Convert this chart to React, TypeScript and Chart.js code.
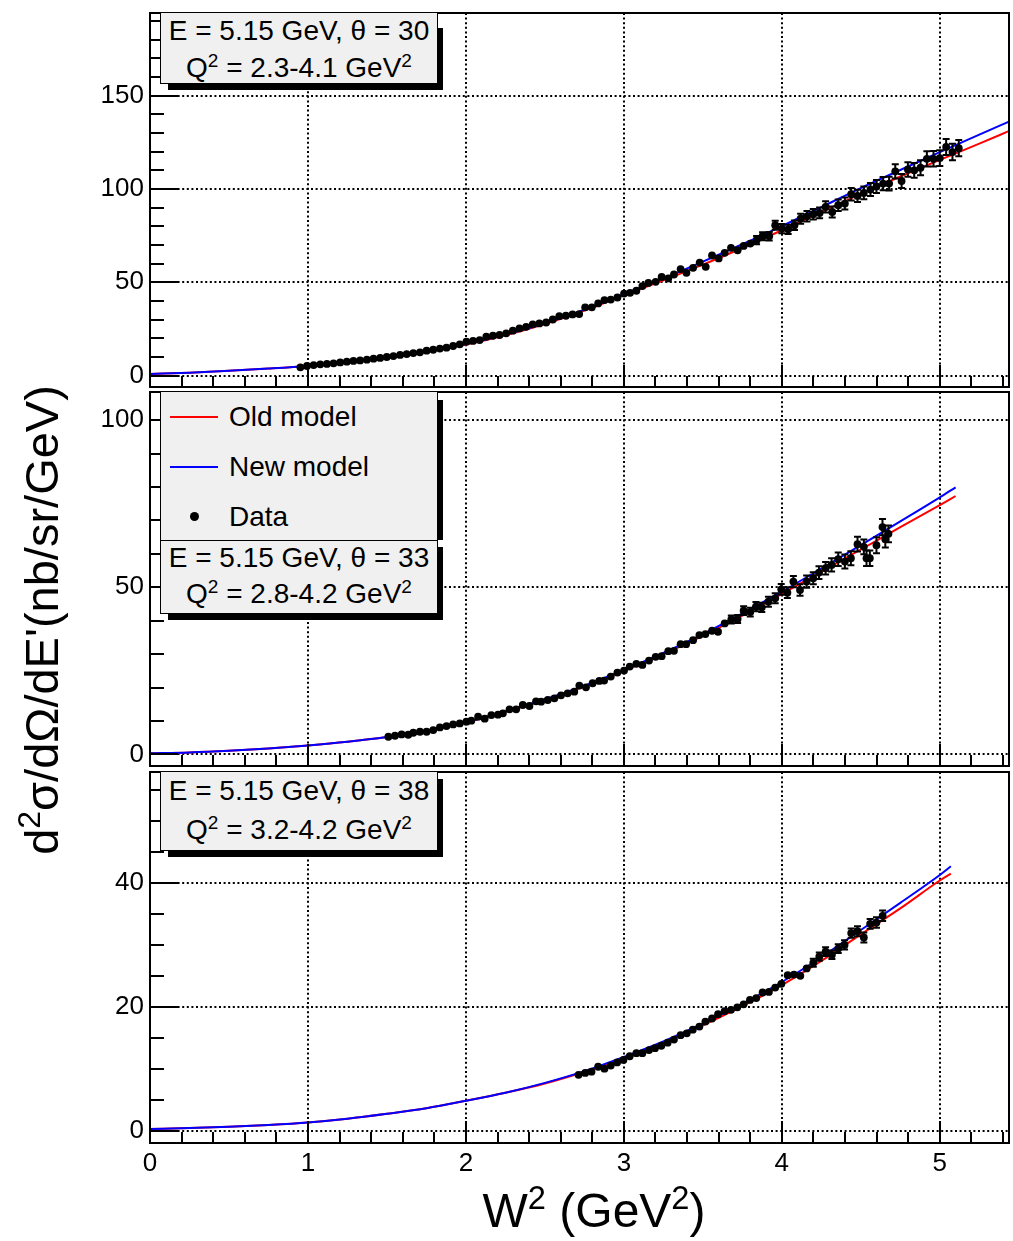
import React, { useEffect, useRef } from "react";
import { Chart, registerables } from "chart.js";

Chart.register(...registerables);

const FONT = "'Liberation Sans', Arial, Helvetica, sans-serif";

// ---------- shared x axis ----------
const X_MIN = 0;
const X_MAX = 5.438;
const xTickLabels = [0, 1, 2, 3, 4, 5];

// ---------- panel 1 (theta = 30) ----------
const p1YTicks = [0, 50, 100, 150];
const p1Data: number[][] = [
  [0.952, 4.4, 0.3], [0.994, 5.1, 0.3], [1.036, 5.6, 0.3], [1.078, 6.0, 0.3], [1.12, 6.2, 0.3],
  [1.162, 6.5, 0.3], [1.204, 7.0, 0.3], [1.246, 7.4, 0.3], [1.288, 7.8, 0.3], [1.33, 8.1, 0.3],
  [1.373, 8.5, 0.3], [1.415, 9.0, 0.3], [1.457, 9.4, 0.3], [1.499, 9.9, 0.3], [1.541, 10.4, 0.3],
  [1.583, 11.0, 0.3], [1.625, 11.5, 0.3], [1.667, 12.0, 0.3], [1.709, 12.4, 0.3], [1.751, 13.3, 0.3],
  [1.793, 13.8, 0.3], [1.835, 14.4, 0.3], [1.877, 14.9, 0.3], [1.919, 15.8, 0.4], [1.961, 16.7, 0.4],
  [2.003, 18.1, 0.4], [2.045, 18.5, 0.4], [2.087, 19.0, 0.4], [2.129, 20.8, 0.4], [2.171, 21.3, 0.4],
  [2.213, 21.7, 0.4], [2.255, 22.6, 0.5], [2.297, 24.0, 0.5], [2.339, 25.2, 0.5], [2.381, 26.1, 0.5],
  [2.423, 27.4, 0.5], [2.465, 27.9, 0.5], [2.508, 28.4, 0.6], [2.55, 30.0, 0.6], [2.591, 31.8, 0.6],
  [2.633, 32.0, 0.6], [2.675, 32.7, 0.7], [2.717, 32.9, 0.7], [2.755, 36.5, 0.7], [2.797, 36.5, 0.7],
  [2.837, 38.6, 0.8], [2.877, 40.4, 0.8], [2.917, 40.7, 0.8], [2.959, 41.8, 0.9], [3.001, 43.9, 0.9],
  [3.039, 44.3, 1.0], [3.079, 45.4, 1.0], [3.117, 47.9, 1.1], [3.155, 49.6, 1.1], [3.201, 50.2, 1.2],
  [3.239, 52.8, 1.2], [3.281, 52.0, 1.3], [3.317, 54.1, 1.3], [3.359, 57.0, 1.4], [3.396, 55.0, 1.4],
  [3.438, 57.7, 1.5], [3.48, 60.5, 1.6], [3.518, 58.2, 1.6], [3.558, 64.3, 1.7], [3.6, 62.7, 1.8],
  [3.638, 65.7, 1.8], [3.678, 68.4, 1.9], [3.72, 67.1, 2.0], [3.758, 69.4, 2.0], [3.8, 70.7, 2.1],
  [3.84, 72.5, 2.2], [3.878, 74.6, 2.2], [3.92, 74.6, 2.3], [3.958, 80.5, 2.4], [4.0, 78.7, 2.5],
  [4.04, 78.3, 2.5], [4.08, 80.5, 2.6], [4.119, 84.0, 2.7], [4.159, 85.3, 2.8], [4.199, 86.4, 2.8],
  [4.239, 87.1, 2.9], [4.277, 90.3, 3.0], [4.319, 87.6, 3.0], [4.357, 91.2, 3.1], [4.399, 92.1, 3.2],
  [4.439, 97.1, 3.3], [4.479, 96.2, 3.3], [4.519, 97.8, 3.4], [4.561, 99.6, 3.5], [4.599, 101.3, 3.5],
  [4.641, 102.8, 3.6], [4.679, 102.8, 3.7], [4.718, 109.4, 3.8], [4.758, 104.2, 3.8], [4.798, 110.4, 3.9],
  [4.838, 109.9, 4.0], [4.878, 111.3, 4.0], [4.918, 116.1, 4.1], [4.96, 116.1, 4.2], [5.0, 116.5, 4.2],
  [5.04, 122.4, 4.3], [5.08, 119.7, 4.4], [5.12, 121.8, 4.4],
];
const p1CurveX = [0, 0.25, 0.5, 0.75, 1.0, 1.25, 1.5, 1.75, 2.0, 2.25, 2.5, 2.75, 3.0, 3.25, 3.5, 3.75, 4.0, 4.25, 4.5, 4.75, 5.0, 5.25, 5.45];
const p1OldModel = [0.8, 1.5, 2.5, 3.7, 5.1, 7.0, 9.5, 12.7, 16.6, 21.6, 27.6, 34.8, 43.0, 51.0, 59.4, 68.3, 77.8, 87.6, 97.3, 106.6, 115.5, 124.2, 131.4];
const p1NewModel = [0.8, 1.5, 2.5, 3.7, 5.1, 7.0, 9.5, 12.8, 16.8, 21.9, 28.0, 35.3, 43.6, 52.0, 61.0, 70.3, 80.0, 90.2, 100.4, 110.1, 119.7, 129.0, 136.5];

// ---------- panel 2 (theta = 33) ----------
const p2YTicks = [0, 50, 100];
const p2Data: number[][] = [
  [1.509, 5.3, 0.2], [1.551, 5.6, 0.2], [1.593, 6.0, 0.2], [1.635, 5.9, 0.2], [1.667, 6.5, 0.2],
  [1.709, 6.8, 0.2], [1.751, 6.8, 0.2], [1.793, 7.3, 0.2], [1.835, 8.1, 0.2], [1.877, 8.5, 0.2],
  [1.919, 9.0, 0.2], [1.961, 9.3, 0.2], [2.003, 9.8, 0.2], [2.034, 10.1, 0.2], [2.077, 11.3, 0.3],
  [2.119, 10.7, 0.3], [2.161, 11.8, 0.3], [2.203, 11.9, 0.3], [2.234, 12.3, 0.3], [2.276, 13.5, 0.3],
  [2.318, 13.5, 0.3], [2.36, 14.8, 0.3], [2.402, 14.5, 0.3], [2.444, 15.9, 0.3], [2.476, 15.8, 0.3],
  [2.518, 16.3, 0.4], [2.56, 16.8, 0.4], [2.602, 17.7, 0.4], [2.644, 18.3, 0.4], [2.686, 18.8, 0.4],
  [2.718, 20.6, 0.4], [2.76, 20.1, 0.4], [2.802, 21.3, 0.5], [2.844, 22.0, 0.5], [2.875, 22.1, 0.5],
  [2.917, 23.3, 0.5], [2.959, 24.5, 0.5], [3.001, 25.1, 0.6], [3.037, 26.3, 0.6], [3.079, 27.1, 0.6],
  [3.117, 26.8, 0.6], [3.159, 28.1, 0.7], [3.201, 29.2, 0.7], [3.239, 29.4, 0.7], [3.281, 30.9, 0.8],
  [3.317, 31.0, 0.8], [3.359, 33.0, 0.8], [3.394, 33.0, 0.9], [3.438, 34.2, 0.9], [3.478, 35.7, 0.9],
  [3.516, 36.0, 1.0], [3.558, 37.0, 1.0], [3.596, 36.7, 1.1], [3.638, 39.2, 1.1], [3.68, 40.4, 1.2],
  [3.72, 40.5, 1.2], [3.758, 43.0, 1.3], [3.8, 42.6, 1.3], [3.836, 44.2, 1.4], [3.873, 44.0, 1.4],
  [3.915, 45.7, 1.5], [3.958, 46.7, 1.5], [3.996, 49.4, 1.6], [4.035, 48.4, 1.6], [4.073, 51.7, 1.7],
  [4.115, 49.2, 1.7], [4.157, 51.7, 1.8], [4.199, 52.7, 1.8], [4.235, 54.4, 1.9], [4.277, 55.7, 1.9],
  [4.315, 56.7, 2.0], [4.357, 58.4, 2.0], [4.399, 57.7, 2.1], [4.437, 58.7, 2.1], [4.479, 62.9, 2.2],
  [4.519, 62.1, 2.2], [4.536, 58.7, 2.3], [4.557, 58.7, 2.3], [4.599, 62.6, 2.4], [4.637, 68.0, 2.4],
  [4.655, 64.4, 2.5], [4.675, 66.0, 2.5],
];
const p2CurveX = [0, 0.25, 0.5, 0.75, 1.0, 1.25, 1.5, 1.75, 2.0, 2.25, 2.5, 2.75, 3.0, 3.25, 3.5, 3.75, 4.0, 4.25, 4.5, 4.75, 5.0, 5.1];
const p2OldModel = [0.35, 0.6, 1.1, 1.8, 2.7, 3.8, 5.2, 7.0, 9.6, 12.8, 16.3, 20.3, 25.0, 30.0, 35.5, 41.5, 48.0, 54.6, 61.3, 68.0, 74.6, 77.3];
const p2NewModel = [0.35, 0.6, 1.1, 1.8, 2.7, 3.8, 5.2, 7.0, 9.6, 12.9, 16.5, 20.6, 25.3, 30.4, 36.0, 42.2, 48.7, 55.6, 62.6, 69.7, 76.9, 79.9];

// ---------- panel 3 (theta = 38) ----------
const p3YTicks = [0, 20, 40];
const p3Data: number[][] = [
  [2.713, 9.0, 0.15], [2.755, 9.3, 0.15], [2.795, 9.5, 0.15], [2.837, 10.3, 0.15], [2.877, 10.0, 0.15],
  [2.917, 10.5, 0.15], [2.957, 11.0, 0.2], [2.997, 11.4, 0.2], [3.037, 12.0, 0.2], [3.079, 12.5, 0.2],
  [3.117, 12.5, 0.2], [3.159, 13.0, 0.2], [3.197, 13.3, 0.2], [3.237, 13.7, 0.25], [3.277, 14.2, 0.25],
  [3.317, 14.7, 0.25], [3.359, 15.4, 0.25], [3.398, 15.7, 0.3], [3.436, 16.3, 0.3], [3.478, 16.8, 0.3],
  [3.516, 17.6, 0.3], [3.558, 18.1, 0.35], [3.596, 18.8, 0.35], [3.638, 19.3, 0.35], [3.678, 19.5, 0.4],
  [3.718, 19.9, 0.4], [3.758, 20.4, 0.4], [3.798, 21.1, 0.45], [3.838, 21.4, 0.45], [3.878, 22.3, 0.5],
  [3.918, 22.4, 0.5], [3.958, 23.1, 0.5], [3.997, 23.7, 0.55], [4.037, 25.1, 0.55], [4.077, 25.2, 0.6],
  [4.117, 25.0, 0.6], [4.157, 26.2, 0.6], [4.199, 27.1, 0.65], [4.237, 28.1, 0.65], [4.277, 28.9, 0.7],
  [4.317, 28.4, 0.7], [4.357, 29.4, 0.7], [4.397, 30.0, 0.75], [4.439, 31.9, 0.75], [4.479, 32.2, 0.8],
  [4.519, 31.2, 0.8], [4.559, 33.4, 0.8], [4.599, 33.6, 0.85], [4.638, 34.7, 0.85],
];
const p3CurveX = [0, 0.25, 0.5, 0.75, 1.0, 1.25, 1.5, 1.75, 2.0, 2.25, 2.5, 2.75, 3.0, 3.25, 3.5, 3.75, 4.0, 4.25, 4.5, 4.75, 5.0, 5.07];
const p3OldModel = [0.25, 0.4, 0.6, 0.9, 1.3, 1.9, 2.7, 3.6, 4.8, 6.1, 7.6, 9.5, 11.7, 14.2, 17.0, 20.1, 23.5, 27.4, 31.7, 35.9, 40.4, 41.5];
const p3NewModel = [0.25, 0.4, 0.6, 0.9, 1.3, 1.9, 2.7, 3.6, 4.8, 6.1, 7.7, 9.6, 11.9, 14.4, 17.3, 20.5, 24.0, 28.0, 32.4, 36.8, 41.3, 42.7];

type PanelCfg = {
  top: number;
  height: number;
  padTop: number;
  padBottom: number;
  xAxisHeight: number;
  showX: boolean;
  yMin: number;
  yMax: number;
  yTicks: number[];
  yMinor: number;
  data: number[][];
  curveX: number[];
  oldY: number[];
  newY: number[];
};

const panels: PanelCfg[] = [
  { top: 8, height: 384, padTop: 5, padBottom: 5, xAxisHeight: 0, showX: false, yMin: -6.16, yMax: 194.2, yTicks: p1YTicks, yMinor: 10, data: p1Data, curveX: p1CurveX, oldY: p1OldModel, newY: p1NewModel },
  { top: 387, height: 384, padTop: 5, padBottom: 5, xAxisHeight: 0, showX: false, yMin: -3.44, yMax: 108.4, yTicks: p2YTicks, yMinor: 10, data: p2Data, curveX: p2CurveX, oldY: p2OldModel, newY: p2NewModel },
  { top: 767, height: 474, padTop: 5, padBottom: 0, xAxisHeight: 98, showX: true, yMin: -2.02, yMax: 57.94, yTicks: p3YTicks, yMinor: 5, data: p3Data, curveX: p3CurveX, oldY: p3OldModel, newY: p3NewModel },
];

const rootPlugin = {
  id: "rootFrame",
  beforeDatasetsDraw(chart: any) {
    const { ctx, chartArea: a, scales } = chart;
    const xs = scales.x;
    const ys = scales.y;
    const cfg: PanelCfg = chart.options.plugins.rootFrame.cfg;
    ctx.save();
    ctx.strokeStyle = "#000";
    ctx.lineWidth = 2;
    ctx.setLineDash([2, 2.6]);
    for (const v of xTickLabels) {
      if (v === 0) continue;
      const px = Math.round(xs.getPixelForValue(v));
      ctx.beginPath();
      ctx.moveTo(px, a.top);
      ctx.lineTo(px, a.bottom);
      ctx.stroke();
    }
    for (const v of cfg.yTicks) {
      const py = Math.round(ys.getPixelForValue(v));
      ctx.beginPath();
      ctx.moveTo(a.left, py);
      ctx.lineTo(a.right, py);
      ctx.stroke();
    }
    ctx.restore();
  },
  afterDatasetsDraw(chart: any) {
    const { ctx, chartArea: a, scales } = chart;
    const xs = scales.x;
    const ys = scales.y;
    const cfg: PanelCfg = chart.options.plugins.rootFrame.cfg;
    ctx.save();
    // error bars
    ctx.strokeStyle = "#000";
    ctx.lineWidth = 2;
    ctx.beginPath();
    ctx.rect(a.left, a.top, a.right - a.left, a.bottom - a.top);
    ctx.clip();
    for (const [xv, yv, e] of cfg.data) {
      const px = xs.getPixelForValue(xv);
      const y1 = ys.getPixelForValue(yv + e);
      const y2 = ys.getPixelForValue(yv - e);
      if ((y2 - y1) / 2 < 4) continue;
      ctx.beginPath();
      ctx.moveTo(px, y1);
      ctx.lineTo(px, y2);
      ctx.moveTo(px - 3.5, y1);
      ctx.lineTo(px + 3.5, y1);
      ctx.moveTo(px - 3.5, y2);
      ctx.lineTo(px + 3.5, y2);
      ctx.stroke();
    }
    ctx.restore();

    ctx.save();
    ctx.strokeStyle = "#000";
    ctx.lineWidth = 2;
    // x ticks (5 minor divisions per unit)
    for (let i = 0; i * 0.2 <= X_MAX; i++) {
      const px = Math.round(xs.getPixelForValue(i * 0.2));
      const len = i % 5 === 0 ? 22 : 11;
      ctx.beginPath();
      ctx.moveTo(px, a.bottom);
      ctx.lineTo(px, a.bottom - len);
      ctx.stroke();
    }
    // y ticks
    const major = cfg.yTicks[1] - cfg.yTicks[0];
    for (let v = 0; v <= cfg.yMax; v += cfg.yMinor) {
      const py = Math.round(ys.getPixelForValue(v));
      const len = Math.abs(v % major) < 1e-6 ? 28 : 14;
      ctx.beginPath();
      ctx.moveTo(a.left, py);
      ctx.lineTo(a.left + len, py);
      ctx.stroke();
    }
    // frame
    ctx.strokeRect(a.left, a.top, a.right - a.left, a.bottom - a.top);
    ctx.restore();
  },
};

function makeChart(canvas: HTMLCanvasElement, cfg: PanelCfg) {
  return new Chart(canvas as any, {
    type: "scatter",
    data: {
      datasets: [
        {
          label: "Data",
          data: cfg.data.map(([x, y]) => ({ x, y })),
          showLine: false,
          pointRadius: 3.9,
          pointBorderWidth: 0,
          pointBackgroundColor: "#000",
          backgroundColor: "#000",
          borderColor: "#000",
          order: 0,
        },
        {
          label: "New model",
          data: cfg.curveX.map((x, i) => ({ x, y: cfg.newY[i] })),
          showLine: true,
          borderColor: "#0000ff",
          borderWidth: 2,
          pointRadius: 0,
          cubicInterpolationMode: "monotone",
          order: 1,
        },
        {
          label: "Old model",
          data: cfg.curveX.map((x, i) => ({ x, y: cfg.oldY[i] })),
          showLine: true,
          borderColor: "#ff0000",
          borderWidth: 2,
          pointRadius: 0,
          cubicInterpolationMode: "monotone",
          order: 2,
        },
      ],
    } as any,
    options: {
      animation: false,
      responsive: false,
      maintainAspectRatio: false,
      events: [],
      layout: { padding: { top: cfg.padTop, bottom: cfg.padBottom, left: 0, right: 1 } },
      plugins: {
        legend: { display: false },
        tooltip: { enabled: false },
        rootFrame: { cfg },
      } as any,
      scales: {
        x: {
          type: "linear",
          min: X_MIN,
          max: X_MAX,
          display: cfg.showX,
          grid: { display: false, drawTicks: false },
          border: { display: false },
          ticks: {
            color: "#000",
            font: { family: FONT, size: 26 },
            padding: 5,
            maxRotation: 0,
          },
          afterBuildTicks: (s: any) => {
            s.ticks = xTickLabels.map((v) => ({ value: v }));
          },
          afterFit: (s: any) => {
            s.height = cfg.xAxisHeight;
            s.paddingLeft = 0;
            s.paddingRight = 0;
          },
        },
        y: {
          type: "linear",
          min: cfg.yMin,
          max: cfg.yMax,
          grid: { display: false, drawTicks: false },
          border: { display: false },
          ticks: {
            color: "#000",
            font: { family: FONT, size: 26 },
            padding: 6,
          },
          afterBuildTicks: (s: any) => {
            s.ticks = cfg.yTicks.map((v) => ({ value: v }));
          },
          afterFit: (s: any) => {
            s.width = 150;
            s.paddingTop = 0;
            s.paddingBottom = 0;
          },
        },
      },
    } as any,
    plugins: [rootPlugin as any],
  });
}

function Panel({ cfg }: { cfg: PanelCfg }) {
  const ref = useRef<HTMLCanvasElement | null>(null);
  useEffect(() => {
    if (!ref.current) return;
    const c = makeChart(ref.current, cfg);
    return () => c.destroy();
  }, [cfg]);
  return (
    <canvas
      ref={ref}
      width={1013}
      height={cfg.height}
      style={{ position: "absolute", left: 0, top: cfg.top, width: 1013, height: cfg.height }}
    />
  );
}

const sup: React.CSSProperties = { fontSize: "0.68em", verticalAlign: "0.55em", lineHeight: 0 };

function InfoBox({ top, height, shadowStart, lines }: { top: number; height: number; shadowStart: number; lines: { cy: number; content: React.ReactNode }[] }) {
  return (
    <>
      <div style={{ position: "absolute", left: 437, top: top + shadowStart, width: 6, height: height - shadowStart + 7, background: "#000" }} />
      <div style={{ position: "absolute", left: 168, top: top + height, width: 275, height: 7, background: "#000" }} />
      <div
        style={{
          position: "absolute",
          left: 160,
          top,
          width: 278,
          height: height + 1,
          boxSizing: "border-box",
          border: "1px solid #000",
          background: "#f0f0f0",
        }}
      />
      {lines.map((l, i) => (
        <div
          key={i}
          style={{
            position: "absolute",
            left: 160,
            width: 278,
            top: l.cy - 16,
            height: 32,
            lineHeight: "32px",
            textAlign: "center",
            fontFamily: FONT,
            fontSize: 28,
            color: "#000",
            whiteSpace: "nowrap",
          }}
        >
          {l.content}
        </div>
      ))}
    </>
  );
}

function Legend() {
  const entries = [
    { label: "Old model", cy: 417, kind: "line", color: "#ff0000" },
    { label: "New model", cy: 467, kind: "line", color: "#0000ff" },
    { label: "Data", cy: 517, kind: "dot", color: "#000" },
  ];
  return (
    <>
      <div style={{ position: "absolute", left: 437, top: 400, width: 6, height: 140, background: "#000" }} />
      <div
        style={{
          position: "absolute",
          left: 160,
          top: 391,
          width: 278,
          height: 150,
          boxSizing: "border-box",
          border: "1px solid #000",
          background: "#f0f0f0",
        }}
      />
      {entries.map((e) =>
        <React.Fragment key={e.label}>
          {e.kind === "line" ? (
            <div style={{ position: "absolute", left: 170, top: e.cy - 1, width: 48, height: 2, background: e.color }} />
          ) : (
            <div style={{ position: "absolute", left: 190, top: e.cy - 5, width: 9, height: 9, borderRadius: 5, background: e.color }} />
          )}
          <div
            style={{
              position: "absolute",
              left: 229,
              top: e.cy - 16,
              height: 32,
              lineHeight: "32px",
              fontFamily: FONT,
              fontSize: 28,
              color: "#000",
              whiteSpace: "nowrap",
            }}
          >
            {e.label}
          </div>
        </React.Fragment>
      )}
    </>
  );
}

export default function App() {
  return (
    <div style={{ position: "absolute", left: 0, top: 0, width: 1013, height: 1241, background: "#fff", overflow: "hidden" }}>
      {panels.map((p, i) => (
        <Panel key={i} cfg={p} />
      ))}

      <InfoBox
        top={12}
        height={71}
        shadowStart={16}
        lines={[
          { cy: 31, content: <>E = 5.15 GeV, θ = 30</> },
          { cy: 68, content: <>Q<span style={sup}>2</span> = 2.3-4.1 GeV<span style={sup}>2</span></> },
        ]}
      />
      <Legend />
      <InfoBox
        top={540}
        height={73}
        shadowStart={7}
        lines={[
          { cy: 558, content: <>E = 5.15 GeV, θ = 33</> },
          { cy: 594, content: <>Q<span style={sup}>2</span> = 2.8-4.2 GeV<span style={sup}>2</span></> },
        ]}
      />
      <InfoBox
        top={771}
        height={79}
        shadowStart={8}
        lines={[
          { cy: 791, content: <>E = 5.15 GeV, θ = 38</> },
          { cy: 830, content: <>Q<span style={sup}>2</span> = 3.2-4.2 GeV<span style={sup}>2</span></> },
        ]}
      />

      <div
        style={{
          position: "absolute",
          left: 42 - 300,
          top: 620 - 26,
          width: 600,
          height: 52,
          lineHeight: "52px",
          textAlign: "center",
          transform: "rotate(-90deg)",
          fontFamily: FONT,
          fontSize: 47,
          color: "#000",
          whiteSpace: "nowrap",
        }}
      >
        d<span style={sup}>2</span>σ/dΩ/dE'(nb/sr/GeV)
      </div>
      <div
        style={{
          position: "absolute",
          left: 394,
          top: 1186,
          width: 400,
          height: 50,
          lineHeight: "50px",
          textAlign: "center",
          fontFamily: FONT,
          fontSize: 48,
          color: "#000",
          whiteSpace: "nowrap",
        }}
      >
        W<span style={sup}>2</span> (GeV<span style={sup}>2</span>)
      </div>
    </div>
  );
}
